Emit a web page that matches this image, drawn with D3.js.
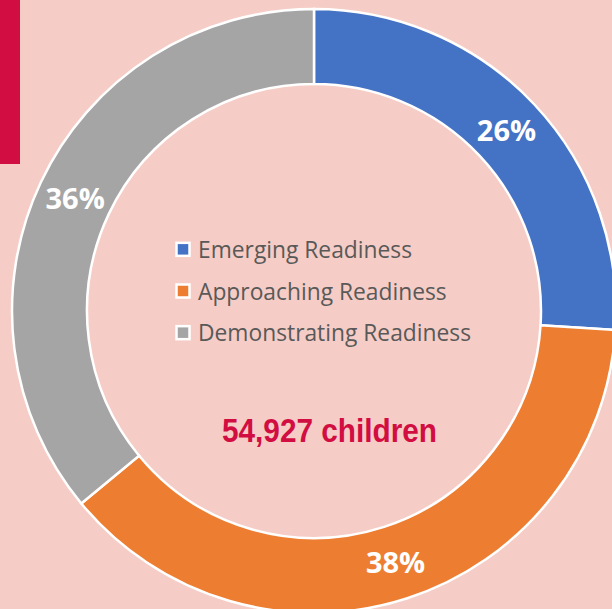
<!DOCTYPE html>
<html><head><meta charset="utf-8">
<script src="https://cdn.jsdelivr.net/npm/d3@7"></script>
<style>
html,body{margin:0;padding:0;background:#F5CDC6;}
svg{display:block;}
</style></head>
<body>
<svg id="chart" width="612" height="609"></svg>
<script>
const categories = ["Emerging Readiness", "Approaching Readiness", "Demonstrating Readiness"];
const values = [26, 38, 36];
const labels = ["26%", "38%", "36%"];
const colors = ["#4472C4", "#ED7D31", "#A5A5A5"];
const totalLabel = "54,927 children";

const svg = d3.select("#chart");
svg.append("rect").attr("x",0).attr("y",0).attr("width",612).attr("height",609).attr("fill","#F5CDC6");
svg.append("rect").attr("x",0).attr("y",0).attr("width",20).attr("height",164).attr("fill","#D20D41");

const cx = 314, cy = 311, rOut = 302, rIn = 227;
const g = svg.append("g").attr("transform",`translate(${cx},${cy})`);
const pie = d3.pie().sort(null).value(d=>d);
const arcs = pie(values);
const arc = d3.arc().innerRadius(rIn).outerRadius(rOut);
const labelArc = d3.arc().innerRadius(264).outerRadius(264);

g.selectAll("path.slice").data(arcs).join("path")
  .attr("class","slice")
  .attr("d",arc)
  .attr("fill",(d,i)=>colors[i])
  .attr("stroke","#fff").attr("stroke-width",2.5);

g.selectAll("text.pct").data(arcs).join("text")
  .attr("class","pct")
  .attr("transform",d=>`translate(${labelArc.centroid(d)})`)
  .attr("text-anchor","middle").attr("dy","0.36em")
  .attr("font-family","'Open Sans', sans-serif").attr("font-weight","bold")
  .attr("font-size",29).attr("fill","#fff")
  .text((d,i)=>labels[i]);

const legend = svg.append("g");
const ly = d3.scaleBand().domain(categories).range([229, 354]);
categories.forEach((c,i)=>{
  const y = ly(c) + ly.bandwidth()/2;
  legend.append("rect").attr("x",176.5).attr("y",y-7).attr("width",13).attr("height",13)
    .attr("fill",colors[i]).attr("stroke","#fff").attr("stroke-width",2.5);
  legend.append("text").attr("x",198).attr("y",y).attr("dy","0.36em")
    .attr("font-family","'Open Sans', sans-serif").attr("font-size",22.8).attr("fill","#595959")
    .text(c);
});

svg.append("text").attr("x",222).attr("y",442)
  .attr("font-family","'Liberation Sans Narrow', 'Arial Narrow', sans-serif").attr("font-weight","bold")
  .attr("font-size",34).attr("fill","#D20D41")
  .attr("textLength",215).attr("lengthAdjust","spacingAndGlyphs")
  .text(totalLabel);
</script>
</body></html>
